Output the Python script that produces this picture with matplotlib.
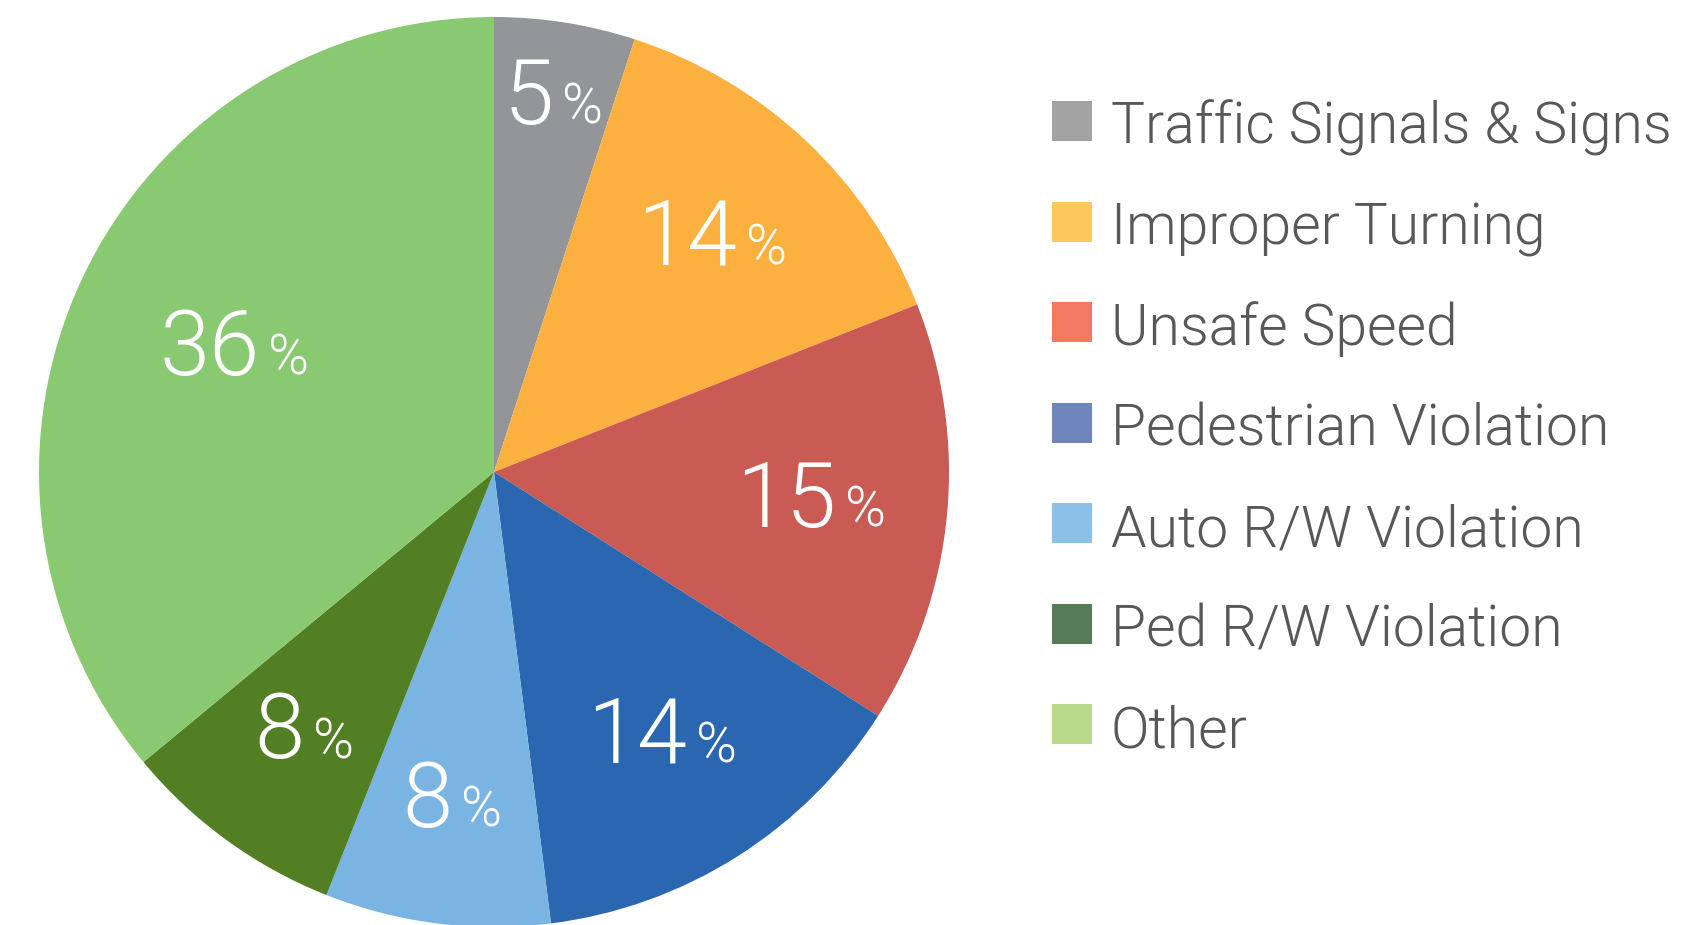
import numpy as np
import matplotlib.pyplot as plt
from matplotlib.patches import Rectangle
from matplotlib.offsetbox import TextArea, HPacker, AnnotationBbox

# dados
categorias = ["Traffic Signals & Signs", "Improper Turning", "Unsafe Speed",
              "Pedestrian Violation", "Auto R/W Violation", "Ped R/W Violation", "Other"]
valores = [5, 14, 15, 14, 8, 8, 36]

cores_pizza = ["#939598", "#FBB040", "#C95A54", "#2B67B0", "#79B4E3", "#527F24", "#88C971"]
cores_legenda = ["#A3A3A3", "#FEC75C", "#F27A63", "#6F86BD", "#8BC1E9", "#567C55", "#BAD98A"]

# distancia do rotulo ao centro (fracao do raio)
raio_rotulo = [0.83, 0.70, 0.70, 0.69, 0.73, 0.71, 0.63]

W, H = 1695, 925
fig = plt.figure(figsize=(W / 100, H / 100), dpi=100)
ax = fig.add_axes([0, 0, 1, 1])

cx, cy, r = 494, H - 472, 455
wedges, _ = ax.pie(valores, colors=cores_pizza, startangle=90, counterclock=False,
                   center=(cx, cy), radius=r, wedgeprops=dict(linewidth=0))

fonte = "Roboto"
for w, v, rr in zip(wedges, valores, raio_rotulo):
    ang = np.deg2rad((w.theta1 + w.theta2) / 2)
    x = cx + rr * r * np.cos(ang)
    y = cy + rr * r * np.sin(ang)
    num = TextArea(str(v), textprops=dict(color="white", fontsize=65, family=fonte, weight=300))
    pct = TextArea("%", textprops=dict(color="white", fontsize=40, family=fonte, weight=300))
    caixa = HPacker(children=[num, pct], align="baseline", pad=0, sep=6)
    ab = AnnotationBbox(caixa, (x, y), frameon=False, box_alignment=(0.5, 0.5))
    ax.add_artist(ab)

# legenda
x_q, lado = 1052, 40
y0, passo = 121, 100.5
for i, (cat, cor) in enumerate(zip(categorias, cores_legenda)):
    yc = H - (y0 + i * passo)
    ax.add_patch(Rectangle((x_q, yc - lado / 2), lado, lado, color=cor, linewidth=0))
    ax.text(1111, yc - 23, cat, fontsize=41, family=fonte, weight=300,
            color="#58585A", va="baseline", ha="left")

ax.set_xlim(0, W)
ax.set_ylim(0, H)
ax.set_aspect("equal")
ax.axis("off")

fig.savefig("out.png", dpi=100)
